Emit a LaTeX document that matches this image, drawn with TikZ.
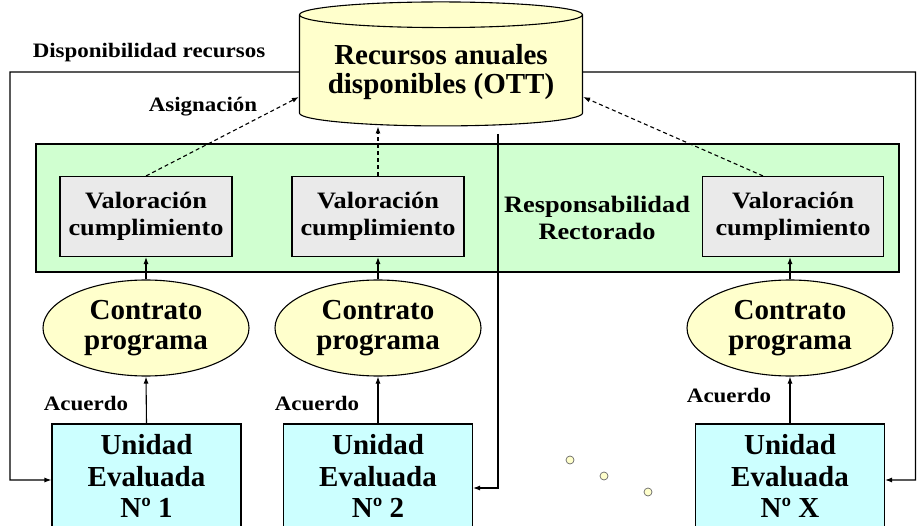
\documentclass[tikz,border=0pt]{standalone}
\usepackage{fontspec}
\setmainfont{Liberation Serif}
\newfontfamily\widefont{Liberation Serif}[FakeStretch=1.12]
\usetikzlibrary{shapes.geometric,arrows.meta,calc}

\definecolor{cylfill}{RGB}{255,255,204}
\definecolor{ovalfill}{RGB}{255,255,204}
\definecolor{zonefill}{RGB}{208,255,208}
\definecolor{evalfill}{RGB}{234,234,234}
\definecolor{unitfill}{RGB}{204,255,255}

\begin{document}
\begin{tikzpicture}[x=1pt, y=-1pt, font=\bfseries, line width=1.1pt,
    flow/.style={-{Latex[length=7pt,width=5pt]}},
    back/.style={flow, dash pattern=on 4pt off 3pt},
    evalbox/.style={draw, fill=evalfill, minimum width=172pt, minimum height=80pt, align=center, inner sep=0pt, font=\widefont\bfseries\fontsize{23.5}{27}\selectfont},
    contract/.style={ellipse, draw, fill=ovalfill, minimum width=206pt, minimum height=96pt, align=center, inner sep=0pt, font=\bfseries\fontsize{29}{30}\selectfont},
    unit/.style={draw, fill=unitfill, minimum width=189pt, minimum height=104pt, align=center, inner sep=0pt, font=\bfseries\fontsize{29}{31.5}\selectfont},
    tag/.style={font=\widefont\bfseries\fontsize{20.5}{24}\selectfont},
    dot/.style={circle, draw=black!60, fill=ovalfill, inner sep=0pt, minimum size=8pt}]
    \useasboundingbox (0,0) rectangle (917,526);

    % Green zone of the Rectorado
    \node[draw, fill=zonefill, minimum width=863pt, minimum height=128pt] (zone) at (467.5,208) {};
    \node[align=center, font=\widefont\bfseries\fontsize{23.5}{27}\selectfont] (resp) at (597,218) {Responsabilidad\\Rectorado};

    % Annual resources at the top
    \node[cylinder, shape border rotate=90, aspect=0.11, draw, fill=cylfill,
          minimum width=283pt, minimum height=124pt, align=center,
          font=\bfseries\fontsize{29}{29}\selectfont] (ott) at (441,72) {Recursos anuales\\disponibles (OTT)};

    % Valuation boxes
    \node[evalbox] (v1) at (146,216.5) {Valoración\\cumplimiento};
    \node[evalbox] (v2) at (378,216.5) {Valoración\\cumplimiento};
    \node[evalbox, minimum width=181pt] (v3) at (793,216.5) {Valoración\\cumplimiento};

    % Contracts
    \node[contract] (c1) at (146,328) {Contrato\\programa};
    \node[contract] (c2) at (378,328) {Contrato\\programa};
    \node[contract] (c3) at (790,328) {Contrato\\programa};

    % Evaluated units, running into the bottom edge
    \node[unit] (u1) at (146.5,476) {Unidad\\Evaluada\\Nº 1};
    \node[unit] (u2) at (378,476) {Unidad\\Evaluada\\Nº 2};
    \node[unit] (u3) at (790,476) {Unidad\\Evaluada\\Nº X};

    % Labels
    \node[tag] (disp) at (149,53) {Disponibilidad recursos};
    \node[tag] (asig) at (203,107) {Asignación};
    \node[tag] (acu1) at (86,404) {Acuerdo};
    \node[tag] (acu2) at (317,404) {Acuerdo};
    \node[tag] (acu3) at (729,396) {Acuerdo};

    % Dots between units 2 and X
    \foreach \x/\y in {570/460, 604/476, 648/492}
        \node[dot, line width=0.7pt] (dot\x) at (\x,\y) {};

    % Agreement arrows
    \draw[flow] (u1.north) -- (c1.south);
    \draw[flow] (u2.north) -- (c2.south);
    \draw[flow] (u3.north) -- (c3.south);
    \draw[flow] (c1.north) -- (v1.south);
    \draw[flow] (c2.north) -- (v2.south);
    \draw[flow] (c3.north) -- (c3.north |- v3.south);

    % Assignment (dashed)
    \draw[back] (v1.north) -- ([yshift=-25pt]ott.west);
    \draw[back] (v2.north) -- (v2.north |- ott.south);
    \draw[back] ([xshift=-30pt]v3.north) -- ([yshift=-25pt]ott.east);

    % Availability of resources back to the units
    \coordinate (lcorner) at (10,72);
    \coordinate (rcorner) at (915.5,72);
    \coordinate (tap) at (498,134);
    \draw[flow] (ott.west) -- (lcorner) |- ([yshift=-4pt]u1.west);
    \draw[flow] (ott.east) -- (rcorner) |- ([yshift=-4pt]u3.east);
    \draw[flow] (tap) |- ([yshift=-12pt]u2.east);
\end{tikzpicture}
\end{document}
